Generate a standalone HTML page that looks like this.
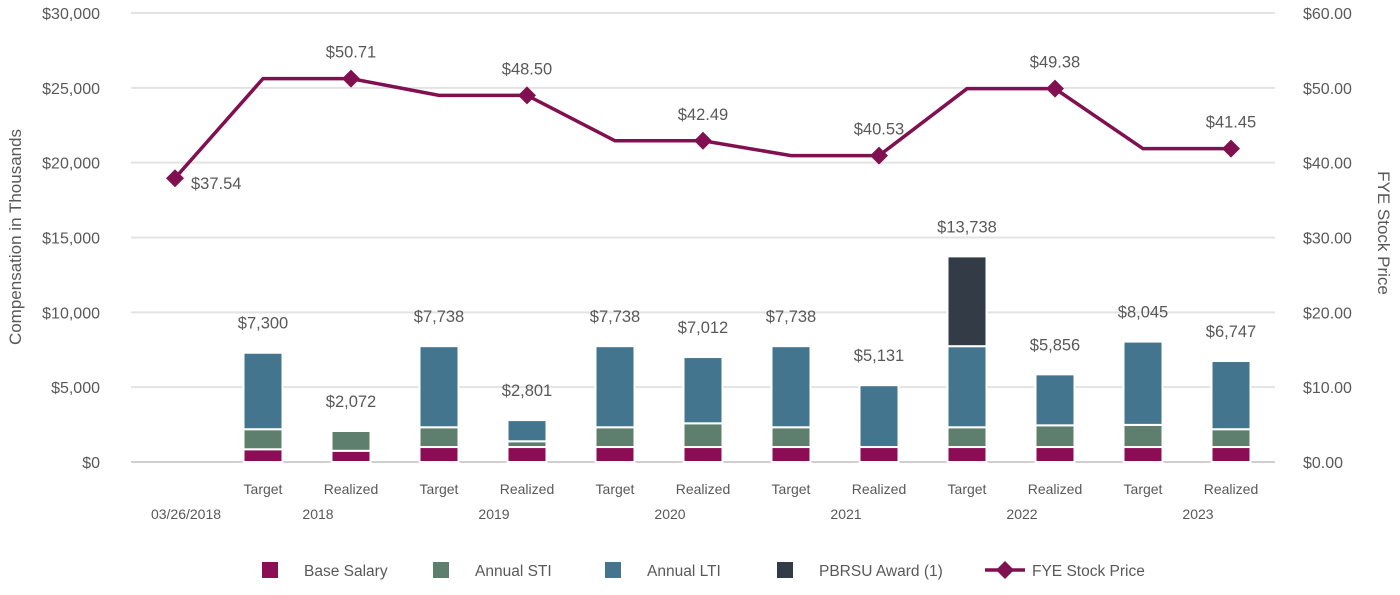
<!DOCTYPE html>
<html><head><meta charset="utf-8"><style>
body{margin:0;background:#fff;}
svg text{font-family:"Liberation Sans",sans-serif;fill:#595959;}
</style></head><body>
<svg id="chart" width="1400" height="590"></svg>
<script>
const categories=["03/26/2018","Target","Realized","Target","Realized","Target","Realized","Target","Realized","Target","Realized","Target","Realized"];
const years=["2018","2019","2020","2021","2022","2023"];
const baseSalary=[0,850,750,1000,1000,1000,1000,1000,1000,1000,1000,1000,1000];
const annualSTI=[0,1340,1322,1320,385,1320,1585,1320,0,1320,1450,1480,1190];
const annualLTI=[0,5110,0,5418,1416,5418,4427,5418,4131,5418,3406,5565,4557];
const pbrsu=[0,0,0,0,0,0,0,0,0,6000,0,0,0];
const totals=[null,"$7,300","$2,072","$7,738","$2,801","$7,738","$7,012","$7,738","$5,131","$13,738","$5,856","$8,045","$6,747"];
const stockPrice=[37.54,50.71,50.71,48.50,48.50,42.49,42.49,40.53,40.53,49.38,49.38,41.45,41.45];
const markerIdx=[0,2,4,6,8,10,12];
const leftTicks=[0,5000,10000,15000,20000,25000,30000];
const rightTicks=[0,10,20,30,40,50,60];

const svg=document.getElementById('chart');
const NS="http://www.w3.org/2000/svg";
function mk(t,a,p){const e=document.createElementNS(NS,t);for(const k in a)e.setAttribute(k,a[k]);(p||svg).appendChild(e);return e;}
const x0=131,slot=88,yBase=462,yTop=13;
const xC=i=>x0+slot*(i+0.5);
const yL=v=>yBase-(v/30000)*(yBase-yTop);
const yRt=v=>yBase-(v/60)*(yBase-yTop);
const yR=v=>yBase-v*7.56;

leftTicks.forEach((v,i)=>{
  const g=mk('line',{x1:131,x2:1275,y1:yL(v),y2:yL(v),stroke:v===0?'#d0d0d0':'#e3e3e3','stroke-width':2});
  
  
  const t=mk('text',{x:100,y:yL(v)+6,'text-anchor':'end','font-size':16});
  t.textContent='$'+v.toLocaleString('en-US');
  
  
});
rightTicks.forEach(v=>{
  const t=mk('text',{x:1303,y:yRt(v)+6,'font-size':16});
  t.textContent='$'+v.toFixed(2);
  
  
});
let t=mk('text',{x:21,y:237,'text-anchor':'middle','font-size':17,transform:'rotate(-90 21 237)'});
t.textContent='Compensation in Thousands';


t=mk('text',{x:1378,y:233,'text-anchor':'middle','font-size':17,transform:'rotate(90 1378 233)'});
t.textContent='FYE Stock Price';



const colors=['#8a0d55','#5e7f6e','#44758e','#323b46'];
const series=[baseSalary,annualSTI,annualLTI,pbrsu];
categories.forEach((c,i)=>{
  let cum=0;
  series.forEach((s,k)=>{
    if(s[i]>0){
      const r=mk('rect',{x:xC(i)-19.5,y:yL(cum+s[i]),width:39,height:yL(cum)-yL(cum+s[i]),fill:colors[k],stroke:'#fff','stroke-width':2});
      
      
    }
    cum+=s[i];
  });
  if(totals[i]){
    const l=mk('text',{x:xC(i),y:yL(cum)-24,'text-anchor':'middle','font-size':16.5});
    l.textContent=totals[i];
    
    
  }
  if(i>0){
    const l=mk('text',{x:xC(i),y:494,'text-anchor':'middle','font-size':14});
    l.textContent=c;
    
    
  } else {
    const l=mk('text',{x:xC(i)+11,y:519,'text-anchor':'middle','font-size':14});
    l.textContent=c;
    
    
  }
});
years.forEach((y,j)=>{
  const l=mk('text',{x:(xC(1+2*j)+xC(2+2*j))/2+11,y:519,'text-anchor':'middle','font-size':14});
  l.textContent=y;
  
  
});

const pts=stockPrice.map((v,i)=>xC(i)+','+yR(v)).join(' ');
const pl=mk('polyline',{points:pts,fill:'none',stroke:'#801050','stroke-width':3.5});


markerIdx.forEach(i=>{
  const x=xC(i),y=yR(stockPrice[i]);
  const d=mk('polygon',{points:`${x},${y-9} ${x+9},${y} ${x},${y+9} ${x-9},${y}`,fill:'#801050'});
  
  
  const l=i===0?mk('text',{x:x+16,y:y+11,'font-size':16.5}):mk('text',{x:x,y:y-21,'text-anchor':'middle','font-size':16.5});
  l.textContent='$'+stockPrice[i].toFixed(2);
  
  
});

const legend=[['Base Salary',270],['Annual STI',441],['Annual LTI',613],['PBRSU Award (1)',785]];
legend.forEach((e,k)=>{
  const r=mk('rect',{x:e[1]-8,y:562,width:16,height:16,fill:colors[k]});
  
  
  const l=mk('text',{x:e[1]+34,y:576,'font-size':15.5});
  l.textContent=e[0];
  
  
});
const ll=mk('line',{x1:985,x2:1025,y1:570,y2:570,stroke:'#801050','stroke-width':3.5});


const ld=mk('polygon',{points:'1005,561 1014,570 1005,579 996,570',fill:'#801050'});


const lt=mk('text',{x:1032,y:576,'font-size':15.5});
lt.textContent='FYE Stock Price';


</script>
</body></html>
